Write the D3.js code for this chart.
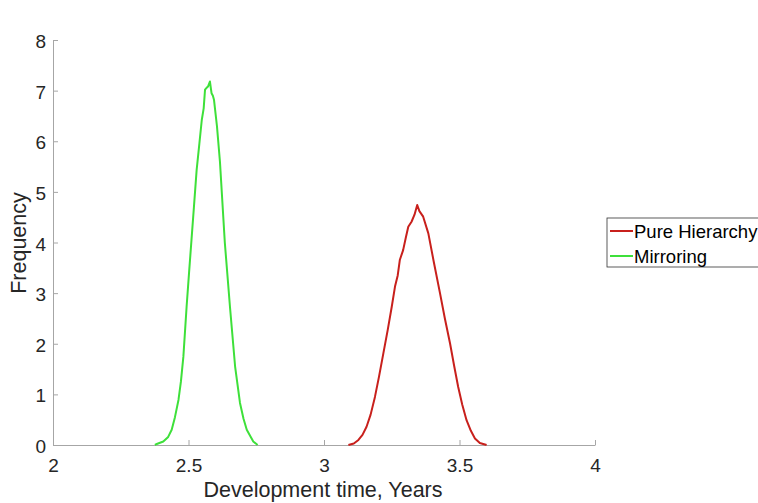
<!DOCTYPE html>
<html>
<head>
<meta charset="utf-8">
<script src="https://cdn.jsdelivr.net/npm/d3@7"></script>
<style>
body { margin: 0; background: #fff; }
text { font-family: "Liberation Sans", Arial, sans-serif; }
</style>
</head>
<body>
<div id="chart"></div>
<script>
// data
var seriesNames = ["Pure Hierarchy", "Mirroring"];
var seriesColors = ["#c8201c", "#3ee03a"];

var hierX = [3.09, 3.11, 3.127, 3.142, 3.157, 3.172, 3.188, 3.203, 3.219, 3.235, 3.250, 3.262, 3.272, 3.280, 3.292, 3.302, 3.311, 3.323, 3.334, 3.344, 3.352, 3.366, 3.385, 3.405, 3.428, 3.446, 3.465, 3.480, 3.495, 3.510, 3.526, 3.542, 3.557, 3.575, 3.60];
var hierY = [0, 0.03, 0.1, 0.2, 0.36, 0.6, 0.95, 1.35, 1.81, 2.27, 2.73, 3.13, 3.35, 3.66, 3.85, 4.1, 4.31, 4.41, 4.55, 4.74, 4.62, 4.51, 4.18, 3.62, 3.0, 2.5, 2.01, 1.57, 1.15, 0.8, 0.49, 0.28, 0.13, 0.04, 0];

var mirrX = [2.376, 2.383, 2.407, 2.425, 2.438, 2.45, 2.463, 2.472, 2.481, 2.493, 2.502, 2.511, 2.520, 2.530, 2.540, 2.549, 2.556, 2.561, 2.566, 2.572, 2.579, 2.585, 2.590, 2.594, 2.605, 2.616, 2.634, 2.653, 2.672, 2.690, 2.703, 2.715, 2.739, 2.755];
var mirrY = [0, 0.02, 0.07, 0.16, 0.30, 0.55, 0.89, 1.25, 1.74, 2.73, 3.4, 4.05, 4.7, 5.43, 5.95, 6.42, 6.65, 7.02, 7.05, 7.08, 7.18, 6.95, 6.9, 6.82, 6.3, 5.6, 4.0, 2.73, 1.55, 0.83, 0.52, 0.30, 0.07, 0];

var xTicks = [2, 2.5, 3, 3.5, 4];
var yTicks = [0, 1, 2, 3, 4, 5, 6, 7, 8];

var width = 758, height = 503;

var svg = d3.select("#chart")
    .append("svg")
    .attr("width", width)
    .attr("height", height);

var x = d3.scaleLinear().domain([2, 4]).range([53, 595]);
var y = d3.scaleLinear().domain([0, 8]).range([445, 40]);

var axisColor = "#a6a6a6";
var textColor = "#262626";

// x axis
var gx = svg.append("g")
    .attr("transform", "translate(0," + y(0) + ")")
    .call(d3.axisBottom(x).tickValues(xTicks).tickSizeInner(-5).tickSizeOuter(0).tickPadding(14)
        .tickFormat(function(d) { return d; }));
gx.select(".domain").attr("stroke", axisColor);
gx.selectAll(".tick line").attr("stroke", axisColor);
gx.selectAll("text").attr("fill", textColor).style("font-size", "19px");

// y axis
var gy = svg.append("g")
    .attr("transform", "translate(" + x(2) + ",0)")
    .call(d3.axisLeft(y).tickValues(yTicks).tickSizeInner(-5).tickSizeOuter(0).tickPadding(7));
gy.select(".domain").attr("stroke", axisColor);
gy.selectAll(".tick line").attr("stroke", axisColor);
gy.selectAll("text").attr("fill", textColor).style("font-size", "19px").attr("dy", "0.4em");

// axis labels
svg.append("text")
    .attr("x", 323)
    .attr("y", 497)
    .attr("text-anchor", "middle")
    .attr("fill", textColor)
    .style("font-size", "21.5px")
    .text("Development time, Years");

svg.append("text")
    .attr("transform", "translate(26,243) rotate(-90)")
    .attr("text-anchor", "middle")
    .attr("fill", textColor)
    .style("font-size", "21.5px")
    .text("Frequency");

// curves
var line = d3.line()
    .x(function(d) { return x(d[0]); })
    .y(function(d) { return y(d[1]); });

var series = [d3.zip(hierX, hierY), d3.zip(mirrX, mirrY)];

svg.selectAll(".curve")
    .data(series)
    .enter()
    .append("path")
    .attr("class", "curve")
    .attr("d", line)
    .attr("fill", "none")
    .attr("stroke", function(d, i) { return seriesColors[i]; })
    .attr("stroke-width", 2)
    .attr("stroke-linejoin", "round");

// legend
var legend = svg.append("g");

legend.append("rect")
    .attr("x", 607)
    .attr("y", 218)
    .attr("width", 170)
    .attr("height", 49)
    .attr("fill", "#fff")
    .attr("stroke", "#333")
    .attr("stroke-width", 0.8);

seriesNames.forEach(function(name, i) {
    var ly = 231 + i * 25;
    legend.append("line")
        .attr("x1", 610)
        .attr("x2", 633)
        .attr("y1", ly)
        .attr("y2", ly)
        .attr("stroke", seriesColors[i])
        .attr("stroke-width", 2);
    legend.append("text")
        .attr("x", 634)
        .attr("y", ly + 6.5)
        .attr("fill", "#000")
        .style("font-size", "18.5px")
        .text(name);
});
</script>
</body>
</html>
